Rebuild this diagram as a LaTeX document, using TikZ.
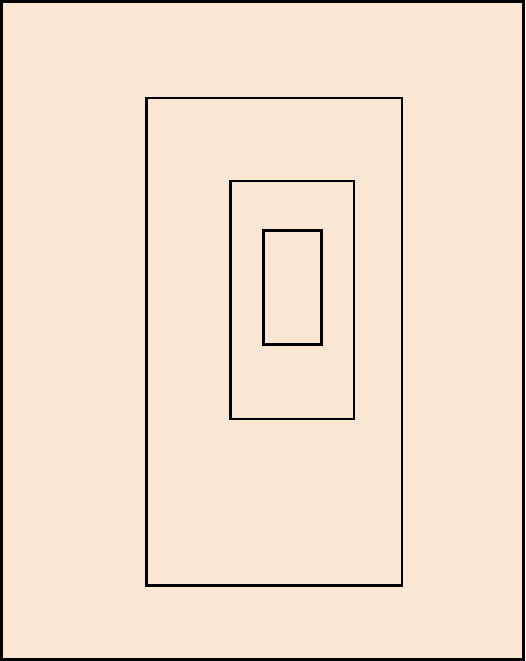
\documentclass[tikz,border=0pt]{standalone}
\usepackage{xcolor}
\usepackage{tikz}
\usetikzlibrary{calc}
\definecolor{paper}{RGB}{249,231,212}
\tikzset{
  frame line/.style={
    draw=black,
    line width=2.6pt
  }
}
\tikzset{
  box line/.style={
    draw=black,
    line width=2.7pt
  }
}

\begin{document}
\begin{tikzpicture}[x=1pt,y=-1pt]

    % ------------------------------------------------------------
    % Page
    % ------------------------------------------------------------

    \useasboundingbox (0,0) rectangle (525,661);
    \fill[paper] (0,0) rectangle (525,661);
    \draw[frame line] (1.3,1.3) rectangle (523.7,659.7);

    % ------------------------------------------------------------
    % Nested boxes
    % ------------------------------------------------------------

    % Outer box
    \draw[box line] (146.5,98) rectangle (402,585.7);

    % Middle box
    \draw[box line] (230.2,181) rectangle (354,419);

    % Inner box
    \draw[box line] (263.5,230.8) rectangle (321.3,344.7);

\end{tikzpicture}
\end{document}
